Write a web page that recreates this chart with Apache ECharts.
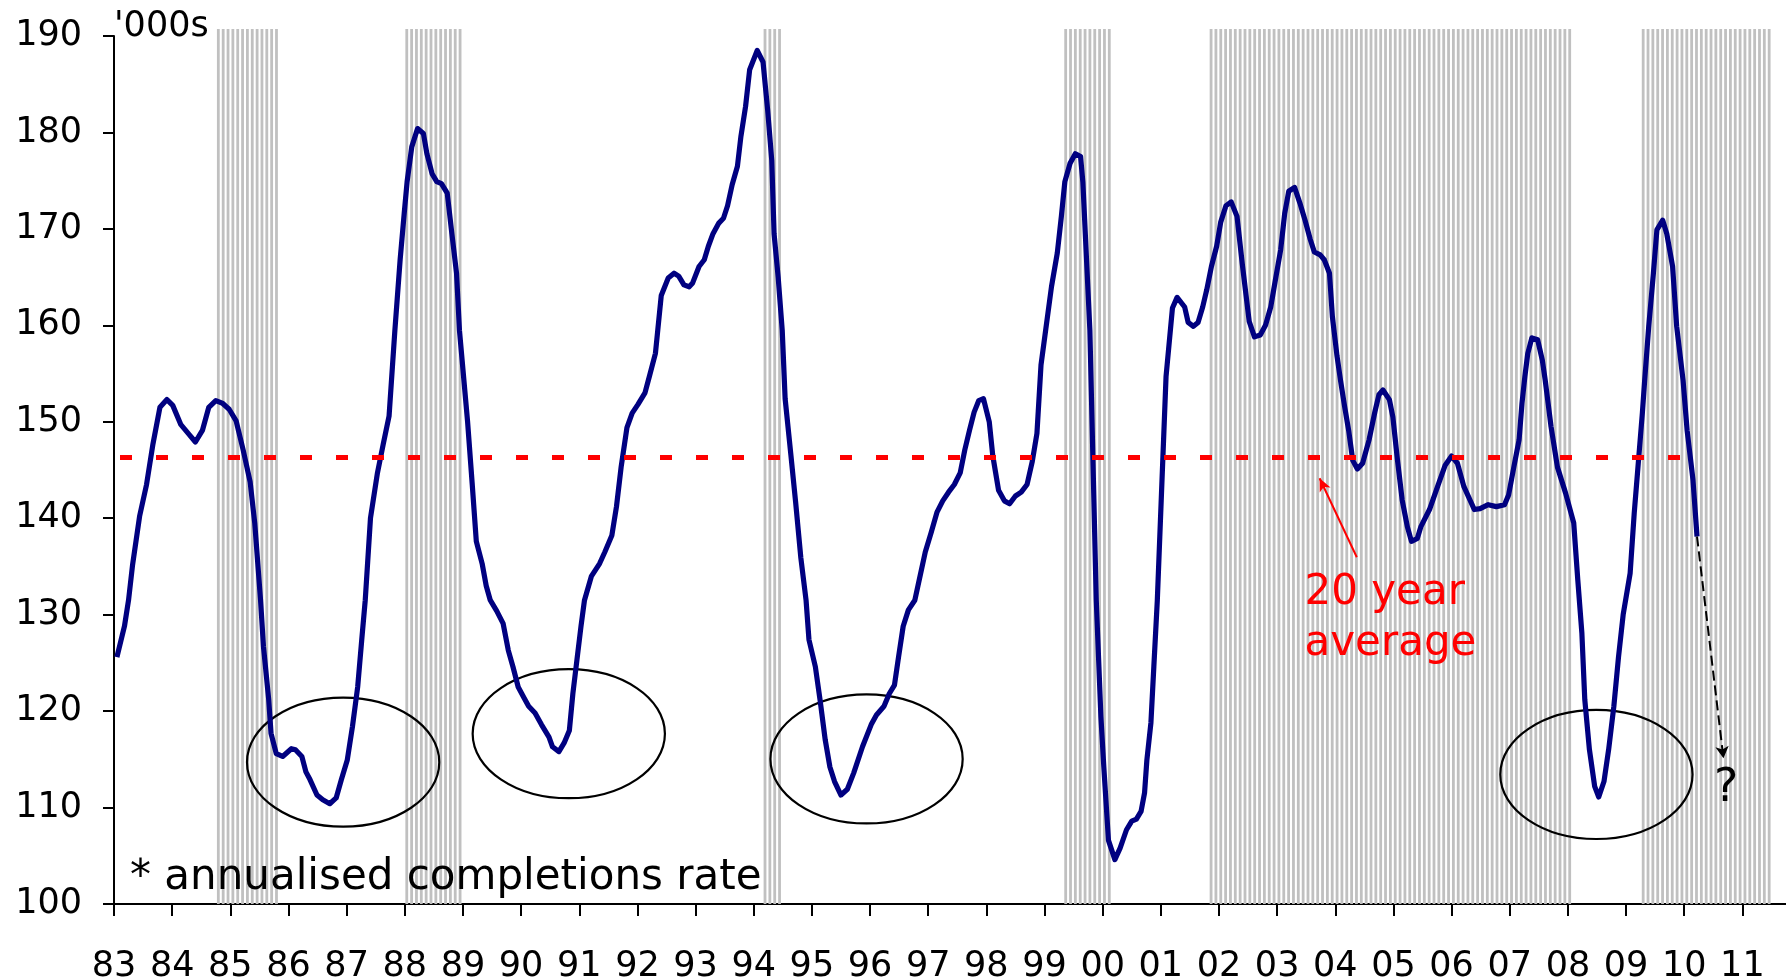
<!DOCTYPE html>
<html>
<head>
<meta charset="utf-8">
<script src="https://cdn.jsdelivr.net/npm/echarts@6/dist/echarts.min.js"></script>
<style>
html,body{margin:0;padding:0;background:#fff;}
#c{width:1786px;height:979px;}
</style>
</head>
<body>
<div id="c"></div>
<script>
// ---- data ----
const years = [
1983.05,1983.18,1983.25,1983.32,1983.44,1983.56,1983.67,1983.79,1983.91,1984.01,
1984.15,1984.29,1984.40,1984.52,1984.63,1984.75,1984.87,1984.98,1985.10,1985.22,
1985.34,1985.42,1985.52,1985.57,1985.66,1985.70,1985.79,1985.90,1986.05,1986.12,
1986.23,1986.30,1986.37,1986.49,1986.59,1986.71,1986.82,1986.91,1987.01,1987.10,
1987.19,1987.26,1987.32,1987.41,1987.53,1987.63,1987.73,1987.83,1987.92,1987.99,
1988.04,1988.12,1988.22,1988.32,1988.38,1988.47,1988.55,1988.63,1988.73,1988.81,
1988.89,1988.94,1989.08,1989.16,1989.23,1989.33,1989.40,1989.47,1989.58,1989.69,
1989.78,1989.86,1989.95,1990.04,1990.13,1990.24,1990.35,1990.48,1990.54,1990.65,
1990.74,1990.83,1990.89,1990.96,1991.03,1991.09,1991.21,1991.35,1991.44,1991.56,
1991.64,1991.72,1991.82,1991.91,1992.01,1992.13,1992.21,1992.31,1992.35,1992.41,
1992.53,1992.63,1992.71,1992.80,1992.89,1992.95,1993.06,1993.15,1993.22,1993.30,
1993.40,1993.48,1993.55,1993.63,1993.72,1993.78,1993.86,1993.93,1994.06,1994.16,
1994.24,1994.31,1994.35,1994.42,1994.49,1994.54,1994.64,1994.72,1994.81,1994.90,
1994.95,1995.06,1995.14,1995.23,1995.31,1995.39,1995.50,1995.61,1995.72,1995.87,
1996.02,1996.11,1996.24,1996.33,1996.42,1996.49,1996.57,1996.66,1996.77,1996.86,
1996.95,1997.05,1997.15,1997.25,1997.35,1997.45,1997.55,1997.63,1997.71,1997.79,
1997.87,1997.95,1998.05,1998.11,1998.21,1998.31,1998.40,1998.50,1998.60,1998.70,
1998.79,1998.87,1998.94,1999.02,1999.12,1999.22,1999.29,1999.35,1999.44,1999.53,
1999.62,1999.66,1999.78,1999.89,1999.97,2000.02,2000.10,2000.21,2000.30,2000.41,
2000.50,2000.58,2000.66,2000.72,2000.76,2000.83,2000.88,2000.94,2001.09,2001.20,
2001.28,2001.41,2001.47,2001.56,2001.64,2001.72,2001.79,2001.87,2001.96,2002.03,
2002.12,2002.21,2002.31,2002.40,2002.52,2002.61,2002.71,2002.80,2002.89,2002.97,
2003.06,2003.13,2003.20,2003.30,2003.39,2003.48,2003.57,2003.64,2003.74,2003.81,
2003.90,2003.95,2004.03,2004.09,2004.16,2004.23,2004.30,2004.38,2004.47,2004.58,
2004.68,2004.75,2004.82,2004.93,2004.99,2005.07,2005.15,2005.24,2005.31,2005.41,
2005.47,2005.62,2005.76,2005.89,2006.00,2006.10,2006.21,2006.39,2006.49,2006.63,
2006.77,2006.91,2006.98,2007.07,2007.16,2007.21,2007.26,2007.31,2007.38,2007.48,
2007.56,2007.61,2007.71,2007.82,2007.96,2008.10,2008.17,2008.24,2008.29,2008.37,
2008.46,2008.53,2008.62,2008.70,2008.79,2008.87,2008.95,2009.07,2009.14,2009.21,
2009.28,2009.32,2009.39,2009.47,2009.53,2009.63,2009.70,2009.80,2009.87,2009.98,
2010.05,2010.15,2010.22
];
const completions = [
125.6,128.8,131.5,135.2,140.2,143.5,147.7,151.5,152.3,151.7,
149.7,148.7,147.9,149.1,151.5,152.2,151.9,151.3,150.1,147.1,
143.8,139.5,131.5,126.7,121.2,117.7,115.6,115.3,116.1,116.0,
115.3,113.7,112.9,111.3,110.8,110.4,111.0,112.9,114.9,118.4,
122.5,127.4,131.5,140.0,144.7,147.7,150.6,159.5,166.8,171.6,
174.9,178.5,180.4,179.9,177.8,175.7,174.9,174.7,173.7,169.5,
165.4,159.5,150.0,143.5,137.6,135.3,133.0,131.5,130.4,129.1,
126.3,124.6,122.5,121.5,120.5,119.8,118.6,117.3,116.3,115.8,
116.7,118.0,121.8,125.3,128.8,131.5,134.0,135.3,136.5,138.2,
141.2,145.3,149.4,150.9,151.8,153.0,154.8,157.1,159.5,163.1,
164.9,165.4,165.1,164.2,164.0,164.4,166.1,166.8,168.2,169.5,
170.6,171.1,172.4,174.6,176.5,179.6,182.7,186.5,188.5,187.3,
182.3,177.1,169.5,165.0,159.5,152.4,146.5,141.7,135.9,131.5,
127.4,124.6,121.2,117.0,114.2,112.7,111.3,111.9,113.6,116.3,
118.6,119.6,120.5,121.8,122.7,125.6,128.8,130.5,131.5,134.0,
136.5,138.5,140.6,141.8,142.7,143.5,144.7,147.1,149.1,151.0,
152.2,152.4,150.0,146.5,142.9,141.8,141.5,142.3,142.7,143.5,
145.9,148.8,155.9,159.5,164.0,167.5,171.3,174.9,176.8,177.8,
177.5,174.8,159.5,131.5,119.4,114.2,106.6,104.6,105.8,107.7,
108.6,108.8,109.6,111.5,114.9,118.8,124.6,131.5,154.7,161.8,
162.9,161.9,160.3,159.9,160.3,161.9,163.7,166.1,168.2,170.7,
172.4,172.8,171.3,166.4,160.4,158.8,159.0,160.0,161.9,164.7,
167.8,171.6,173.9,174.3,172.7,170.9,168.9,167.6,167.3,166.8,
165.4,160.9,156.8,154.3,151.6,149.1,146.0,145.1,145.7,148.1,
151.0,152.8,153.3,152.3,150.5,146.0,141.9,139.1,137.6,137.9,
139.1,140.9,143.3,145.5,146.45,145.7,143.3,140.9,141.0,141.4,
141.2,141.4,142.4,145.3,148.1,151.9,154.7,157.1,158.7,158.5,
156.4,154.3,149.5,145.3,142.6,139.5,133.6,128.1,121.2,116.0,
112.2,111.1,112.7,116.0,120.5,125.6,130.0,134.3,140.5,145.7,
150.9,154.3,159.9,165.4,169.9,170.9,169.5,166.1,159.9,154.3,
149.1,144.0,138.1
];
const yearTicks = [1983,1984,1985,1986,1987,1988,1989,1990,1991,1992,1993,1994,1995,1996,1997,1998,1999,2000,2001,2002,2003,2004,2005,2006,2007,2008,2009,2010,2011];
const yearLabels = ['83','84','85','86','87','88','89','90','91','92','93','94','95','96','97','98','99','00','01','02','03','04','05','06','07','08','09','10','11'];
const shadedPeriods = [[1984.77,1985.83],[1988.01,1988.98],[1994.17,1994.47],[1999.34,2000.16],[2001.84,2008.06],[2009.27,2011.48]];
const averageValue = 146.3;
const averageSpan = [1983, 2010.15];
const circledTroughs = [[1986.94,114.71],[1990.82,117.66],[1995.94,115.04],[2008.49,113.43]];
const circleRadius = [1.653, 6.69];
const averageArrow = [[2004.37,135.95],[2003.73,144.14]];
const outlookArrow = [[2010.22,138.1],[2010.675,115.1]];
const noteAnchors = [[2003.47,129.6],[2010.72,111.9]];
const noteTexts = ['20 year\naverage','?'];
const footnote = '* annualised completions rate';
const unitLabel = "'000s";

// ---- chart ----
const FONT = '"DejaVu Sans", Verdana, sans-serif';
const chart = echarts.init(document.getElementById('c'), null, {renderer:'canvas'});
const lineData = years.map((y,i)=>[y, completions[i]]);
const noteStyles = [
  {fill:'#ff0000', fontSize:42, lineHeight:51, align:'left'},
  {fill:'#000000', fontSize:46, lineHeight:46, align:'center'}
];

const option = {
  animation:false,
  backgroundColor:'#ffffff',
  grid:{left:114, right:0, top:36, bottom:75, containLabel:false, outerBoundsMode:'none'},
  xAxis:{
    type:'value', min:1983, max:2011.75, interval:1,
    splitLine:{show:false},
    axisLine:{show:true, onZero:false, lineStyle:{color:'#000', width:2}},
    axisTick:{show:true, length:12, customValues:yearTicks, lineStyle:{color:'#000', width:2}},
    axisLabel:{show:true, customValues:yearTicks, color:'#000', fontFamily:FONT, fontSize:35, margin:45,
      formatter:v=>{const i=yearTicks.indexOf(Math.round(v)); return i>=0?yearLabels[i]:'';}}
  },
  yAxis:{
    type:'value', min:100, max:190, interval:10,
    splitLine:{show:false},
    axisLine:{show:true, lineStyle:{color:'#000', width:2}},
    axisTick:{show:true, length:11, lineStyle:{color:'#000', width:2}},
    axisLabel:{color:'#000', fontFamily:FONT, fontSize:35, margin:32, padding:[8,0,0,0]}
  },
  graphic:[
    {type:'text', left:114, top:9, z:100, silent:true, style:{text:unitLabel, fill:'#000', font:'35px '+FONT}},
    {type:'text', left:130, top:857, z:100, silent:true, style:{text:footnote, fill:'#000', font:'42px '+FONT}}
  ],
  series:[
    {
      name:'shading', type:'custom', silent:true, z:1,
      data:shadedPeriods.map(p=>[p[0],p[1]]),
      encode:{x:[0,1]},
      renderItem:function(params, api){
        const cs = params.coordSys;
        const x0 = api.coord([api.value(0), 100])[0];
        const x1 = api.coord([api.value(1), 100])[0];
        const step = api.size([1/12, 0])[0];
        const top = cs.y - 7, bottom = cs.y + cs.height;
        const w = 2.8;
        const children = [];
        for (let x = x0; x <= x1 - w + 0.5; x += step) {
          children.push({type:'rect', shape:{x:x, y:top, width:w, height:bottom-top}, style:{fill:'#c0c0c0'}});
        }
        return {type:'group', children:children};
      }
    },
    {
      name:'troughs', type:'custom', silent:true, z:3,
      data:circledTroughs,
      encode:{x:0, y:1},
      renderItem:function(params, api){
        const c = api.coord([api.value(0), api.value(1)]);
        const s = api.size([circleRadius[0], circleRadius[1]]);
        return {type:'ellipse', shape:{cx:c[0], cy:c[1], rx:s[0], ry:s[1]}, style:{fill:null, stroke:'#000', lineWidth:2.2}};
      }
    },
    {
      name:'completions', type:'line', z:4, silent:true,
      data:lineData, showSymbol:false, symbol:'none',
      lineStyle:{color:'#000080', width:5.2, join:'round'},
      markLine:{
        silent:true, animation:false,
        symbol:['none','arrow'], symbolSize:[10,12],
        label:{show:false},
        lineStyle:{color:'#000', width:2, type:[10,5]},
        data:[[{coord:outlookArrow[0]},{coord:outlookArrow[1]}]]
      }
    },
    {
      name:'20 year average', type:'line', z:5, silent:true,
      data:[[averageSpan[0],averageValue],[averageSpan[1],averageValue]],
      showSymbol:false, symbol:'none',
      lineStyle:{color:'#ff0000', width:5, type:[12,24], dashOffset:-6},
      markLine:{
        silent:true, animation:false,
        symbol:['none','arrow'], symbolSize:[9,13],
        label:{show:false},
        lineStyle:{color:'#ff0000', width:2, type:'solid'},
        data:[[{coord:averageArrow[0]},{coord:averageArrow[1]}]]
      }
    },
    {
      name:'notes', type:'custom', silent:true, z:6,
      data:noteAnchors,
      encode:{x:0, y:1},
      renderItem:function(params, api){
        const c = api.coord([api.value(0), api.value(1)]);
        const st = noteStyles[params.dataIndex];
        return {type:'text', x:c[0], y:c[1], style:{text:noteTexts[params.dataIndex], fill:st.fill,
          fontSize:st.fontSize, fontFamily:FONT, lineHeight:st.lineHeight, align:st.align, verticalAlign:'middle'}};
      }
    }
  ]
};
chart.setOption(option);
</script>
</body>
</html>
